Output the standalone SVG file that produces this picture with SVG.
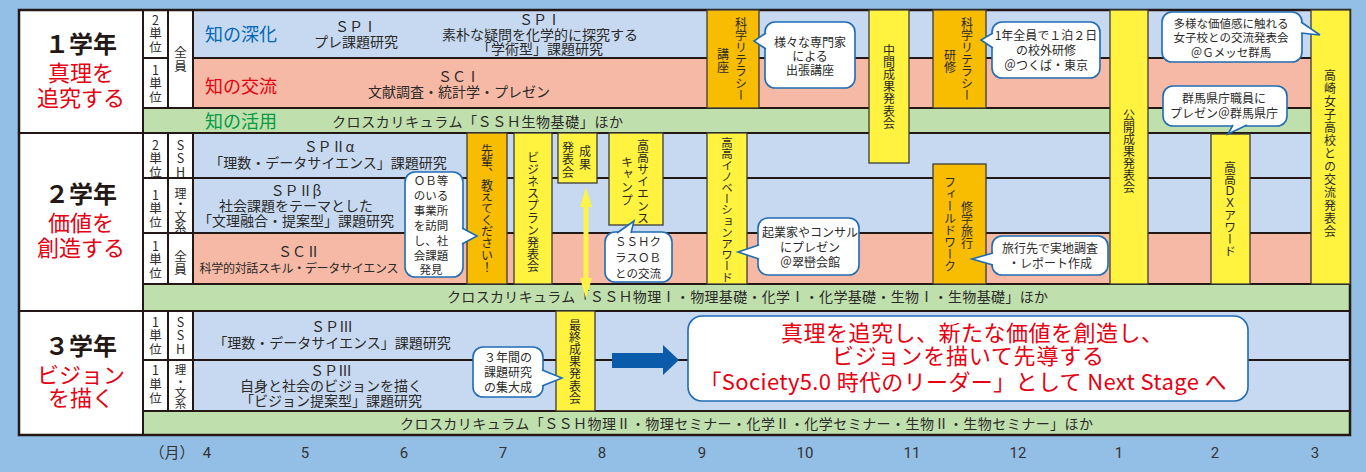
<svg xmlns="http://www.w3.org/2000/svg" width="1366" height="472" viewBox="0 0 1366 472">
<style>
text{font-family:"Noto Sans CJK JP","Noto Sans",sans-serif;fill:#2b2a29}
.m{text-anchor:middle}
.f14{font-size:14px}
.uv{writing-mode:vertical-rl;text-orientation:upright;font-size:12.5px;letter-spacing:1px}
.rowb{fill:#c6d9f0;stroke:#231815;stroke-width:2}
.rows{fill:#f5b9a5;stroke:#231815;stroke-width:2}
.rowg{fill:#bfdfad;stroke:#231815;stroke-width:2}
.cell{fill:#fff;stroke:#231815;stroke-width:2}
.ybox{fill:#fff33f;stroke:#3b3b3b;stroke-width:1.3}
.obox{fill:#f8bc00;stroke:#3b3b3b;stroke-width:1.3}
.v{writing-mode:vertical-rl;font-size:12px}
.co{fill:#fff;stroke:#1f6cb5;stroke-width:1.6}
.ct{font-size:12px;text-anchor:middle}
.gt{font-size:24px;font-weight:bold;fill:#231815;text-anchor:middle}
.gr{font-size:22px;fill:#e60012;text-anchor:middle}
.big{font-size:22px;fill:#e60012;text-anchor:middle}
.mon{font-family:Roboto,"Noto Sans",sans-serif;font-size:15px;fill:#333;text-anchor:middle}
</style>
<rect width="1366" height="472" fill="#93bfe6"/>

<g id="grade1">
<rect class="cell" x="19" y="10" width="124" height="123"/>
<text class="gt" x="81" y="53">１学年</text>
<text class="gr" x="81" y="81">真理を</text>
<text class="gr" x="81" y="106">追究する</text>
<rect class="cell" x="143" y="10" width="25" height="48"/>
<text class="uv" x="155.5" y="13.75">2単位</text>
<rect class="cell" x="143" y="58" width="25" height="50"/>
<text class="uv" x="155.5" y="63.75">1単位</text>
<rect class="cell" x="168" y="10" width="25" height="98"/>
<text class="uv" x="180.5" y="45.75" style="letter-spacing:1.5px">全員</text>
<rect class="rowb" x="193" y="10" width="1157" height="48"/>
<rect class="rows" x="193" y="58" width="1157" height="50"/>
<rect class="rowg" x="143" y="108" width="1207" height="25"/>
<text x="205" y="41" style="font-size:18px;fill:#0068b7">知の深化</text>
<text x="205" y="93" style="font-size:18px;fill:#e60012">知の交流</text>
<text x="205" y="128" style="font-size:18px;fill:#009a44">知の活用</text>
<text class="f14 m" x="356" y="32">ＳＰⅠ</text>
<text class="f14 m" x="356" y="47">プレ課題研究</text>
<text class="f14 m" x="540" y="25">ＳＰⅠ</text>
<text class="f14 m" x="540" y="40">素朴な疑問を化学的に探究する</text>
<text class="f14 m" x="540" y="54">「学術型」課題研究</text>
<text class="f14 m" x="459" y="82">ＳＣⅠ</text>
<text class="f14 m" x="459" y="97">文献調査・統計学・プレゼン</text>
<text class="f14" x="332" y="127" textLength="291" lengthAdjust="spacing">クロスカリキュラム「ＳＳＨ生物基礎」ほか</text>
</g>

<g id="grade2">
<rect class="cell" x="19" y="133" width="124" height="178"/>
<text class="gt" x="81" y="203">２学年</text>
<text class="gr" x="81" y="231">価値を</text>
<text class="gr" x="81" y="256">創造する</text>
<rect class="cell" x="143" y="133" width="25" height="45"/>
<text class="uv" x="155.5" y="138.75">2単位</text>
<rect class="cell" x="143" y="178" width="25" height="55"/>
<text class="uv" x="155.5" y="188.75">1単位</text>
<rect class="cell" x="143" y="233" width="25" height="51"/>
<text class="uv" x="155.5" y="239.75">1単位</text>
<rect class="cell" x="168" y="133" width="25" height="45"/>
<text class="uv" x="180.5" y="138.75">SSH</text>
<rect class="cell" x="168" y="178" width="25" height="55"/>
<text class="uv" x="180.5" y="187" style="font-size:12px;letter-spacing:-0.4px">理・文系</text>
<rect class="cell" x="168" y="233" width="25" height="51"/>
<text class="uv" x="180.5" y="249.75" style="letter-spacing:0.5px">全員</text>
<rect class="rowb" x="193" y="133" width="1157" height="45"/>
<rect class="rowb" x="193" y="178" width="1157" height="55"/>
<rect class="rows" x="193" y="233" width="1157" height="51"/>
<rect class="rowg" x="143" y="284" width="1207" height="27"/>
<text class="f14 m" x="329" y="152">ＳＰⅡα</text>
<text class="f14 m" x="328" y="168">「理数・データサイエンス」課題研究</text>
<text class="f14 m" x="296" y="196">ＳＰⅡβ</text>
<text class="f14 m" x="296" y="211">社会課題をテーマとした</text>
<text class="f14 m" x="296" y="226">「文理融合・提案型」課題研究</text>
<text class="f14 m" x="299" y="257">ＳＣⅡ</text>
<text class="m" x="299" y="273" style="font-size:12px" textLength="199" lengthAdjust="spacing">科学的対話スキル・データサイエンス</text>
<text class="f14" x="447" y="302" textLength="601" lengthAdjust="spacing">クロスカリキュラム「ＳＳＨ物理Ⅰ・物理基礎・化学Ⅰ・化学基礎・生物Ⅰ・生物基礎」ほか</text>
</g>

<g id="grade3">
<rect class="cell" x="19" y="311" width="124" height="124"/>
<text class="gt" x="81" y="355">３学年</text>
<text class="gr" x="81" y="383">ビジョン</text>
<text class="gr" x="81" y="406">を描く</text>
<rect class="cell" x="143" y="311" width="25" height="49"/>
<text class="uv" x="155.5" y="315.75">1単位</text>
<rect class="cell" x="143" y="360" width="25" height="51"/>
<text class="uv" x="155.5" y="363.75" style="letter-spacing:1.5px">1単位</text>
<rect class="cell" x="168" y="311" width="25" height="49"/>
<text class="uv" x="180.5" y="315.75">SSH</text>
<rect class="cell" x="168" y="360" width="25" height="51"/>
<text class="uv" x="180.5" y="364.25" style="font-size:11.5px;letter-spacing:-0.3px">理・文系</text>
<rect class="rowb" x="193" y="311" width="1157" height="49"/>
<rect class="rowb" x="193" y="360" width="1157" height="51"/>
<rect class="rowg" x="143" y="411" width="1207" height="24"/>
<text class="f14 m" x="332" y="332">ＳＰⅢ</text>
<text class="f14 m" x="332" y="348">「理数・データサイエンス」課題研究</text>
<text class="f14 m" x="331" y="376">ＳＰⅢ</text>
<text class="f14 m" x="331" y="391">自身と社会のビジョンを描く</text>
<text class="f14 m" x="331" y="406">「ビジョン提案型」課題研究</text>
<text class="f14" x="400" y="429" textLength="693" lengthAdjust="spacing">クロスカリキュラム「ＳＳＨ物理Ⅱ・物理セミナー・化学Ⅱ・化学セミナー・生物Ⅱ・生物セミナー」ほか</text>
</g>

<rect x="19" y="10" width="1331" height="425" fill="none" stroke="#231815" stroke-width="2.5"/>

<g id="lit-lecture"><rect class="obox" x="707" y="10" width="52" height="98"/>
<text class="v" x="741" y="17">科学リテラシー</text><text class="v" x="723" y="48" style="letter-spacing:1px">講座</text></g>
<g id="mid-presentation"><rect class="ybox" x="869" y="10" width="40" height="153"/>
<text class="v" x="889" y="44" style="letter-spacing:0.2px">中間成果発表会</text></g>
<g id="lit-training"><rect class="obox" x="933" y="10" width="53" height="98"/>
<text class="v" x="967" y="17">科学リテラシー</text><text class="v" x="950" y="49">研修</text></g>
<g id="public-presentation"><rect class="ybox" x="1110" y="10" width="38" height="274"/>
<text class="v" x="1129" y="109">公開成果発表会</text></g>
<g id="exchange-presentation"><rect class="ybox" x="1311" y="10" width="39" height="274"/>
<text class="v" x="1330" y="69" style="letter-spacing:1px">高崎女子高校との交流発表会</text></g>
<g id="dx-award"><rect class="ybox" x="1211" y="134" width="39" height="150"/>
<text class="v" x="1230" y="161">高高ＤＸアワード</text></g>
<g id="senpai"><rect class="obox" x="467" y="133" width="40" height="151"/>
<text class="v" x="487" y="144" style="letter-spacing:-0.3px">先輩、教えてください！</text></g>
<g id="business-plan"><rect class="ybox" x="514" y="133" width="38" height="151"/>
<text class="v" x="533" y="151" style="letter-spacing:0.2px">ビジネスプラン発表会</text></g>
<g id="results-presentation"><rect class="ybox" x="558" y="133" width="39" height="50"/>
<text class="v" x="585" y="145" style="letter-spacing:1px">成果</text><text class="v" x="568" y="141" style="letter-spacing:0.5px">発表会</text></g>
<g id="science-camp"><rect class="ybox" x="609" y="133" width="54" height="92"/>
<text class="v" x="643" y="139" style="letter-spacing:0.2px">高高サイエンス</text><text class="v" x="627" y="156" style="letter-spacing:0.7px">キャンプ</text></g>
<g id="innovation-award"><rect class="ybox" x="707" y="133" width="40" height="151"/>
<text class="v" x="727" y="137" style="font-size:11.5px;letter-spacing:-0.3px">高高イノベーションアワード</text></g>
<g id="field-work"><rect class="obox" x="933" y="164" width="53" height="120"/>
<text class="v" x="967" y="201">修学旅行</text><text class="v" x="950" y="176">フィールドワーク</text></g>
<g id="final-presentation"><rect class="ybox" x="556" y="311" width="39" height="100"/>
<text class="v" x="575" y="319" style="letter-spacing:0.2px">最終成果発表会</text></g>

<g id="callout-experts"><rect class="co" x="765" y="22" width="90" height="66" rx="10"/>
<path class="co" d="M766,33 L754,41 L766,49"/>
<text class="ct" x="810" y="46.5">様々な専門家</text><text class="ct" x="810" y="60.5">による</text><text class="ct" x="810" y="74.5">出張講座</text></g>
<g id="callout-tsukuba"><rect class="co" x="992" y="22" width="108" height="56" rx="10"/>
<path class="co" d="M993,33 L981,40 L993,48"/>
<text class="ct" x="1046" y="39.5">1年全員で１泊２日</text><text class="ct" x="1046" y="54.5">の校外研修</text><text class="ct" x="1046" y="69.5">＠つくば・東京</text></g>
<g id="callout-gmesse"><rect class="co" x="1162" y="12" width="140" height="50" rx="10"/>
<path class="co" d="M1301,22 L1320,35 L1301,33"/>
<text class="ct" x="1231" y="27.5" style="font-size:11.5px">多様な価値感に触れる</text><text class="ct" x="1231" y="41.5" style="font-size:11.5px">女子校との交流発表会</text><text class="ct" x="1231" y="56.5" style="font-size:11.5px">＠Ｇメッセ群馬</text></g>
<g id="callout-prefecture"><rect class="co" x="1163" y="86" width="124" height="40" rx="10"/>
<path class="co" d="M1233,125 L1228,134 L1247,125"/>
<text class="ct" x="1224" y="102.5">群馬県庁職員に</text><text class="ct" x="1224" y="117.5">プレゼン＠群馬県庁</text></g>
<g id="callout-ob"><rect class="co" x="405" y="172" width="58" height="105" rx="10"/>
<path class="co" d="M462,228 L477,236 L462,244"/>
<text class="ct" x="431" y="184.5" style="font-size:11.5px">ＯＢ等</text><text class="ct" x="431" y="199.5" style="font-size:11.5px">のいる</text><text class="ct" x="431" y="214.5" style="font-size:11.5px">事業所</text><text class="ct" x="431" y="229.5" style="font-size:11.5px">を訪問</text><text class="ct" x="431" y="244.5" style="font-size:11.5px">し、社</text><text class="ct" x="431" y="259.5" style="font-size:11.5px">会課題</text><text class="ct" x="431" y="273.5" style="font-size:11.5px">発見</text></g>
<g id="callout-ssh-ob"><rect class="co" x="605" y="232" width="67" height="50" rx="10"/>
<path class="co" d="M617,233 L634,221 L631,233"/>
<text class="ct" x="638" y="245.5" style="font-size:11.5px">ＳＳＨク</text><text class="ct" x="638" y="261.5" style="font-size:11.5px">ラスＯＢ</text><text class="ct" x="638" y="277.5" style="font-size:11.5px">との交流</text></g>
<g id="callout-entrepreneur"><rect class="co" x="758" y="218" width="101" height="57" rx="10"/>
<path class="co" d="M759,245 L738,252 L759,259"/>
<text class="ct" x="810" y="236.5">起業家やコンサル</text><text class="ct" x="810" y="251.5">にプレゼン</text><text class="ct" x="810" y="266.5">＠翠巒会館</text></g>
<g id="callout-trip"><rect class="co" x="992" y="236" width="116" height="39" rx="10"/>
<path class="co" d="M993,253 L972,259 L993,265"/>
<text class="ct" x="1050" y="252.5">旅行先で実地調査</text><text class="ct" x="1050" y="267.5">・レポート作成</text></g>
<g id="callout-3years"><rect class="co" x="473" y="347" width="70" height="50" rx="10"/>
<path class="co" d="M542,370 L562,378 L542,386"/>
<text class="ct" x="508" y="361.5">３年間の</text><text class="ct" x="508" y="376.5">課題研究</text><text class="ct" x="508" y="391.5">の集大成</text></g>

<g id="connectors">
<polygon points="586,187 592,207 588.5,207 588.5,278 592,278 586,298 580,278 583.5,278 583.5,207 580,207" fill="#fff34a"/>
<polygon points="612,353 663,353 663,345 679,360 663,375 663,368 612,368" fill="#0b5bab"/>
</g>

<g id="goal">
<rect class="co" x="688" y="316" width="560" height="85" rx="14"/>
<text class="big" x="972" y="341" textLength="382" lengthAdjust="spacing">真理を追究し、新たな価値を創造し、</text>
<text class="big" x="968" y="364" textLength="272" lengthAdjust="spacing">ビジョンを描いて先導する</text>
<text class="big" x="963" y="390" textLength="527" lengthAdjust="spacing">「Society5.0 時代のリーダー」として Next Stage へ</text>
</g>

<g id="months">
<text x="172" y="458" style="font-size:15px;text-anchor:middle;fill:#333">（月）</text>
<text class="mon" x="207" y="458">4</text><text class="mon" x="305" y="458">5</text><text class="mon" x="404" y="458">6</text>
<text class="mon" x="503" y="458">7</text><text class="mon" x="602" y="458">8</text><text class="mon" x="702" y="458">9</text>
<text class="mon" x="805" y="458">10</text><text class="mon" x="912" y="458">11</text><text class="mon" x="1018" y="458">12</text>
<text class="mon" x="1119" y="458">1</text><text class="mon" x="1215" y="458">2</text><text class="mon" x="1315" y="458">3</text>
</g>
</svg>
